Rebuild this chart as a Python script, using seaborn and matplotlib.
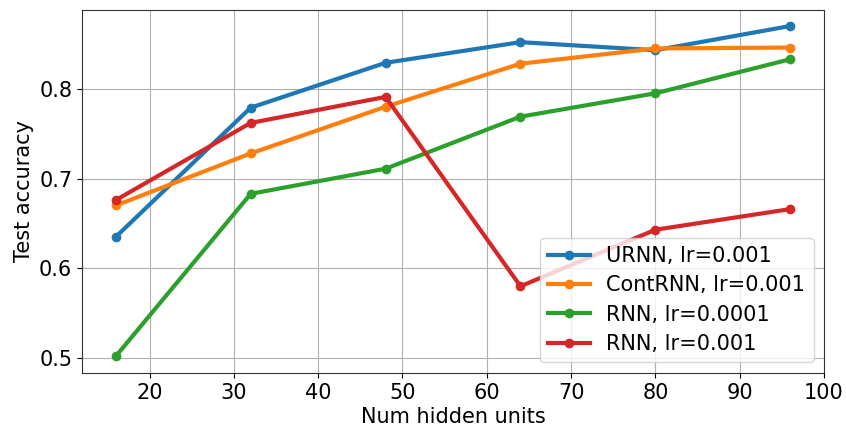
import matplotlib
matplotlib.use("Agg")
import matplotlib.pyplot as plt
import seaborn as sns
import pandas as pd

hidden_units = [16, 32, 48, 64, 80, 96]
urnn = [0.635, 0.779, 0.829, 0.852, 0.843, 0.870]
contrnn = [0.670, 0.728, 0.780, 0.828, 0.845, 0.846]
rnn_lr0001 = [0.502, 0.683, 0.711, 0.769, 0.795, 0.833]
rnn_lr001 = [0.676, 0.762, 0.791, 0.580, 0.643, 0.666]
labels = ["URNN, lr=0.001", "ContRNN, lr=0.001", "RNN, lr=0.0001", "RNN, lr=0.001"]

series = [urnn, contrnn, rnn_lr0001, rnn_lr001]
rows = []
for lab, vals in zip(labels, series):
    for x, y in zip(hidden_units, vals):
        rows.append({"units": x, "acc": y, "model": lab})
df = pd.DataFrame(rows)

plt.rcParams["font.family"] = ["DejaVu Sans"]
fig = plt.figure(figsize=(8.46, 4.28), dpi=100)
ax = fig.add_axes([0.097, 0.129, 0.877, 0.848])
palette = ["#1f77b4", "#ff7f0e", "#2ca02c", "#d62728"]
sns.lineplot(data=df, x="units", y="acc", hue="model", hue_order=labels,
             palette=palette, marker="o", markersize=7, markeredgewidth=0,
             linewidth=3, ax=ax)
ax.grid(True, color="#b0b0b0", linewidth=0.8)
ax.set_axisbelow(True)
ax.set_xlabel("Num hidden units", fontsize=15, labelpad=3)
ax.set_ylabel("Test accuracy", fontsize=15)
ax.set_xlim(12, 100)
ax.set_ylim(0.4836, 0.888)
ax.set_yticks([0.5, 0.6, 0.7, 0.8])
ax.set_xticks([20, 30, 40, 50, 60, 70, 80, 90, 100])
ax.tick_params(labelsize=15)
for s in ax.spines.values():
    s.set_color("#333333")
ax.legend(loc="lower right", fontsize=15, title=None, framealpha=0.8,
          labelspacing=0.45, borderaxespad=0.5)
fig.savefig("out.png", dpi=100)
